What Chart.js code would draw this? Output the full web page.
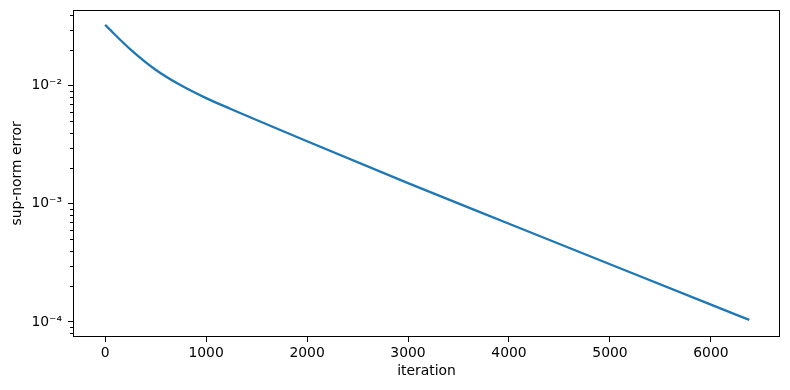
<!DOCTYPE html>
<html>
<head>
<meta charset="utf-8">
<script src="https://cdn.jsdelivr.net/npm/chart.js@4"></script>
<style>
  html, body { margin: 0; padding: 0; background: #fff; }
  #wrap { width: 790px; height: 390px; }
</style>
</head>
<body>
<div id="wrap"><canvas id="errChart"></canvas></div>
<script>
// values
const iterations = [0, 250, 500, 750, 1000, 1250, 1500, 2000, 3000, 4000, 5000, 6000, 6380];
const supErrors = [0.0328, 0.0204, 0.0137, 0.0101, 0.00787, 0.00634, 0.00513, 0.00339, 0.00150, 0.000679, 0.000308, 0.000140, 0.000104];
const xTicks = [0, 1000, 2000, 3000, 4000, 5000, 6000];
const yTicks = [1e-4, 1e-3, 1e-2];
const yTickLabels = ['10⁻⁴', '10⁻³', '10⁻²'];

const FONT = 'DejaVu Sans';

// frame round the plot + short minor ticks on the log axis
const framePlugin = {
    id: 'frame',
    afterDraw(chart) {
        const c = chart.ctx;
        const a = chart.chartArea;
        const y = chart.scales.y;
        c.save();
        c.strokeStyle = '#000';
        c.lineWidth = 1;
        c.strokeRect(a.left + 0.5, a.top + 0.5, a.right - a.left - 1, a.bottom - a.top - 1);
        for (let e = -5; e <= -1; e++) {
            for (let m = 2; m <= 9; m++) {
                const v = m * Math.pow(10, e);
                if (v < y.min || v > y.max) continue;
                const py = Math.round(y.getPixelForValue(v)) + 0.5;
                c.beginPath();
                c.moveTo(a.left - 3, py);
                c.lineTo(a.left, py);
                c.stroke();
            }
        }
        c.restore();
    }
};

const ctx = document.getElementById('errChart').getContext('2d');

new Chart(ctx, {
    type: 'line',
    data: {
        labels: iterations,
        datasets: [{
            data: iterations.map((it, i) => ({ x: it, y: supErrors[i] })),
            borderColor: '#1f77b4',
            borderWidth: 2.3,
            pointRadius: 0,
            fill: false,
            cubicInterpolationMode: 'monotone'
        }]
    },
    options: {
        responsive: true,
        maintainAspectRatio: false,
        animation: false,
        layout: { padding: { left: 0, right: 10, top: 10, bottom: 0 } },
        plugins: {
            legend: { display: false },
            tooltip: { enabled: false }
        },
        scales: {
            x: {
                type: 'linear',
                bounds: 'data',
                min: -318,
                max: 6684,
                afterBuildTicks: s => { s.ticks = xTicks.map(v => ({ value: v })); },
                afterFit: s => { s.height = 53; },
                grid: { drawOnChartArea: false, drawTicks: true, tickLength: 5, tickColor: '#000', tickWidth: 1 },
                border: { display: false },
                ticks: { color: '#000', padding: 3, maxRotation: 0, font: { family: FONT, size: 13.9 }, callback: v => String(v) },
                title: { display: true, text: 'iteration', color: '#000', padding: { top: 0, bottom: 10 }, font: { family: FONT, size: 13.9 } }
            },
            y: {
                type: 'logarithmic',
                bounds: 'data',
                min: 7.45e-5,
                max: 0.0439,
                afterBuildTicks: s => { s.ticks = yTicks.map(v => ({ value: v })); },
                afterFit: s => { s.width = 73; s.paddingTop = 0; s.paddingBottom = 0; },
                grid: { drawOnChartArea: false, drawTicks: true, tickLength: 5, tickColor: '#000', tickWidth: 1 },
                border: { display: false },
                ticks: {
                    color: '#000',
                    padding: 6,
                    font: { family: FONT, size: 13.9 },
                    callback: (v) => {
                        const i = yTicks.findIndex(t => Math.abs(t - v) / t < 1e-6);
                        return i >= 0 ? yTickLabels[i] : '';
                    }
                },
                title: { display: true, text: 'sup-norm error', color: '#000', padding: { top: 9, bottom: 0 }, font: { family: FONT, size: 13.9 } }
            }
        }
    },
    plugins: [framePlugin]
});
</script>
</body>
</html>
